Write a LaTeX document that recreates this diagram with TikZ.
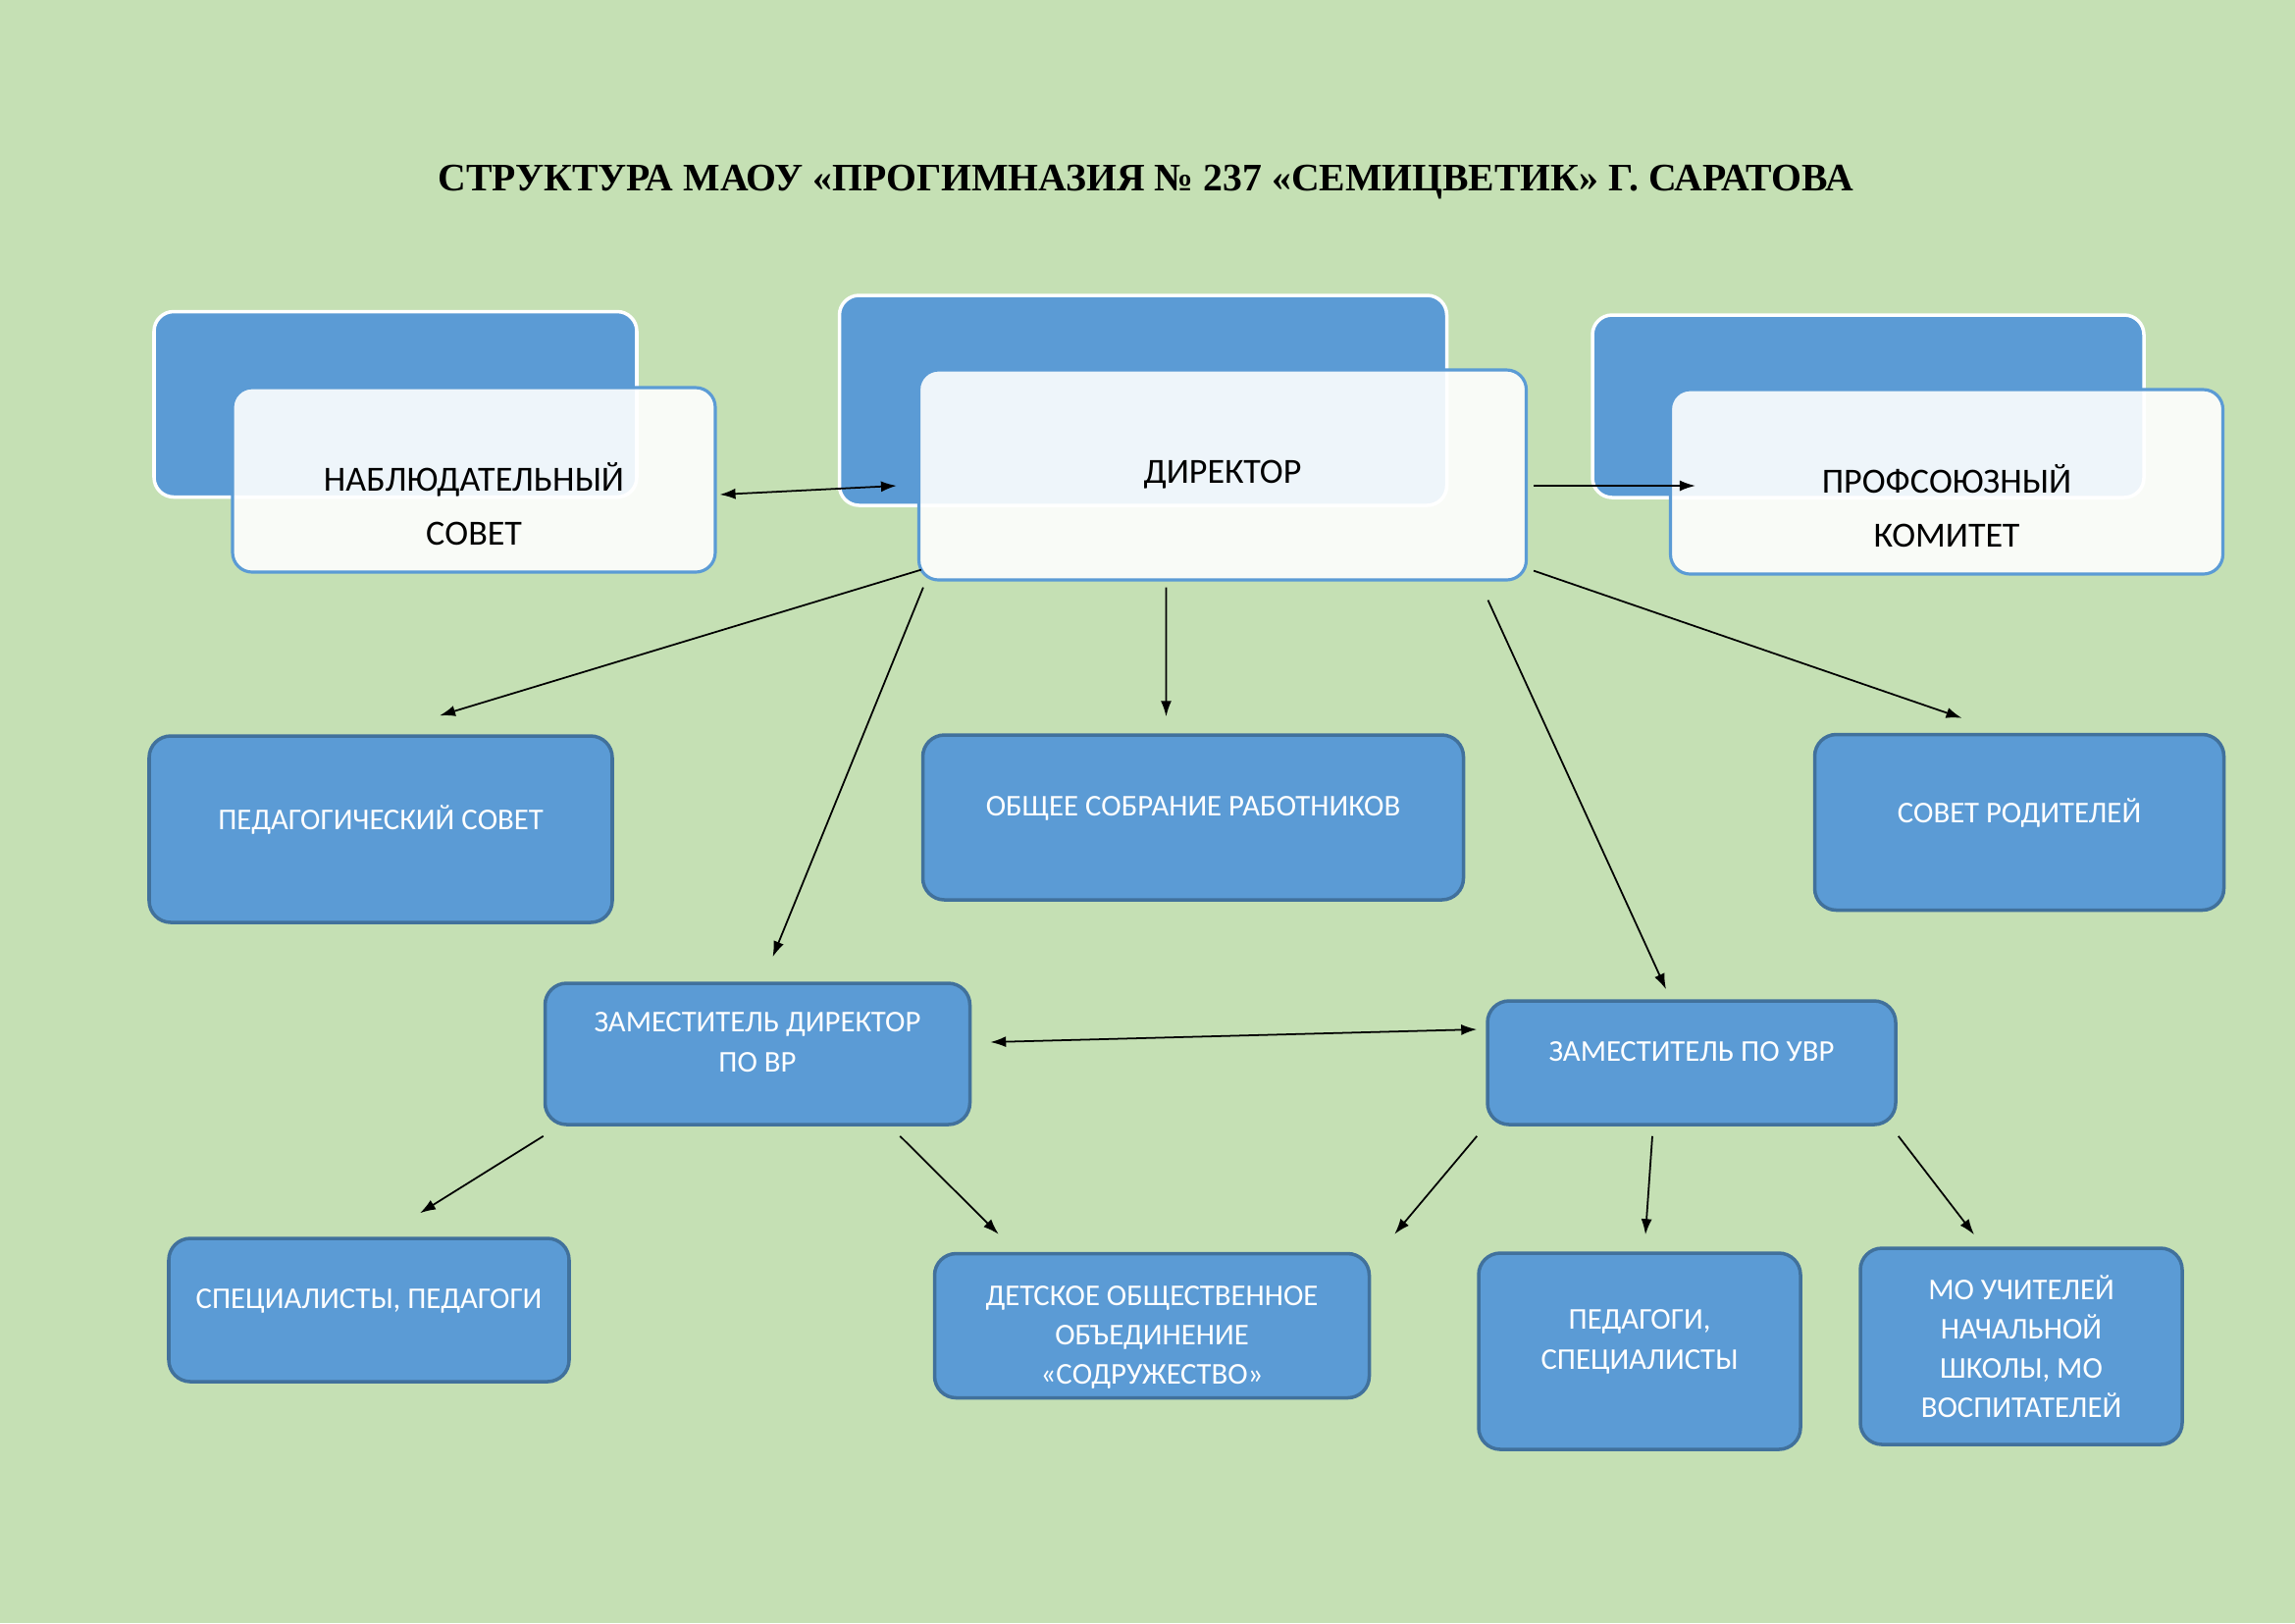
\documentclass[tikz,border=0pt]{standalone}
\usepackage{fontspec}
\setmainfont{Carlito}
\newfontfamily\titlefont{Liberation Serif}
\usetikzlibrary{arrows.meta}

\definecolor{bggreen}{HTML}{C5E0B4}
\definecolor{boxblue}{HTML}{5B9BD5}
\definecolor{boxedge}{HTML}{41719C}

\begin{document}
\begin{tikzpicture}[x=0.1mm, y=-0.1mm,
    backbox/.style={rectangle, rounded corners=2mm, draw=white, line width=1pt, fill=boxblue, inner sep=0pt},
    frontbox/.style={rectangle, rounded corners=2mm, draw=boxblue, line width=0.9pt, fill=white, fill opacity=0.9, text opacity=1, align=center, inner sep=0pt, font=\fontsize{10.25}{15.6}\selectfont},
    unitbox/.style={rectangle, rounded corners=2.2mm, draw=boxedge, line width=1pt, fill=boxblue, text=white, align=center, inner sep=0pt, font=\fontsize{8.75}{11.4}\selectfont},
    arrow/.style={-{Latex[length=1.6mm,width=1.1mm]}, line width=0.5pt},
    twoway/.style={{Latex[length=1.6mm,width=1.1mm]}-{Latex[length=1.6mm,width=1.1mm]}, line width=0.5pt}]

    % Page background
    \fill[bggreen] (0,0) rectangle (2339,1654);
    \useasboundingbox (0,0) rectangle (2339,1654);

    % Title
    \node[font=\titlefont\bfseries\fontsize{11.3}{13}\selectfont] (title) at (1168,186)
        {СТРУКТУРА МАОУ «ПРОГИМНАЗИЯ № 237 «СЕМИЦВЕТИК» Г. САРАТОВА};

    % Top row: back cards
    \node[backbox, minimum width=49.2mm, minimum height=18.9mm] (nabback) at (403,412) {};
    \node[backbox, minimum width=61.9mm, minimum height=21.4mm] (dirback) at (1165,408) {};
    \node[backbox, minimum width=56.2mm, minimum height=18.6mm] (profback) at (1904,414) {};

    % Top row: front cards
    \node[frontbox, minimum width=49.2mm, minimum height=18.8mm] (nab) at (483,489)
        {\mbox{}\\[2.4mm]НАБЛЮДАТЕЛЬНЫЙ\\СОВЕТ};
    \node[frontbox, minimum width=61.9mm, minimum height=21.4mm] (dir) at (1246,484) {ДИРЕКТОР};
    \node[frontbox, minimum width=56.3mm, minimum height=18.8mm] (prof) at (1984,491)
        {\mbox{}\\[2.4mm]ПРОФСОЮЗНЫЙ\\КОМИТЕТ};

    % Second row
    \node[unitbox, minimum width=47.2mm, minimum height=19mm, text depth=2.4mm] (ped) at (388,845) {ПЕДАГОГИЧЕСКИЙ СОВЕТ};
    \node[unitbox, minimum width=55.1mm, minimum height=16.8mm, text depth=2.4mm] (obs) at (1216,833) {ОБЩЕЕ СОБРАНИЕ РАБОТНИКОВ};
    \node[unitbox, minimum width=41.7mm, minimum height=17.9mm, text depth=2.4mm] (rod) at (2058,838) {СОВЕТ РОДИТЕЛЕЙ};

    % Deputies
    \node[unitbox, minimum width=43.3mm, minimum height=14.4mm, text depth=2.4mm] (zvr) at (772,1074) {ЗАМЕСТИТЕЛЬ ДИРЕКТОР\\ПО ВР};
    \node[unitbox, minimum width=41.6mm, minimum height=12.6mm, text depth=2.4mm] (zuvr) at (1724,1083) {ЗАМЕСТИТЕЛЬ ПО УВР};

    % Bottom row
    \node[unitbox, minimum width=40.8mm, minimum height=14.6mm, text depth=2.4mm] (spec) at (376,1335) {СПЕЦИАЛИСТЫ, ПЕДАГОГИ};
    \node[unitbox, minimum width=44.3mm, minimum height=14.7mm] (det) at (1174,1351) {\rule{0pt}{4.3mm}ДЕТСКОЕ ОБЩЕСТВЕННОЕ\\ОБЪЕДИНЕНИЕ\\«СОДРУЖЕСТВО»};
    \node[unitbox, minimum width=32.8mm, minimum height=20mm, text depth=2.4mm] (pedsp) at (1671,1377) {ПЕДАГОГИ,\\СПЕЦИАЛИСТЫ};
    \node[unitbox, minimum width=32.8mm, minimum height=20mm] (mo) at (2060,1372) {МО УЧИТЕЛЕЙ\\НАЧАЛЬНОЙ\\ШКОЛЫ, МО\\ВОСПИТАТЕЛЕЙ};

    % Arrows from the top row
    \draw[twoway] ([xshift=0.3mm,yshift=-1.5mm]nab.east) -- ([xshift=-2.1mm,yshift=-1.1mm]dir.west);
    \draw[arrow] ([xshift=0.6mm,yshift=-1.1mm]dir.east) -- ([xshift=2.7mm,yshift=-0.4mm]prof.west);
    \draw[arrow] ([xshift=0.4mm,yshift=1.2mm]dir.south west) -- ([xshift=6mm,yshift=1.9mm]ped.north);
    \draw[arrow] ([xshift=-5.75mm,yshift=-0.6mm]dir.south) -- ([xshift=-2.75mm,yshift=1.7mm]obs.north);
    \draw[arrow] ([xshift=0.6mm,yshift=1.1mm]dir.south east) -- ([xshift=-5.85mm,yshift=1.5mm]rod.north);
    \draw[arrow] ([xshift=0.6mm,yshift=-0.6mm]dir.south west) -- ([xshift=1.55mm,yshift=2.5mm]zvr.north);
    \draw[arrow] ([xshift=27.05mm,yshift=-1.9mm]dir.south) -- ([xshift=-2.6mm,yshift=1mm]zuvr.north);

    % Arrows between and below the deputies
    \draw[twoway] ([xshift=1.9mm,yshift=1.2mm]zvr.east) -- ([xshift=-0.9mm,yshift=3.4mm]zuvr.west);
    \draw[arrow] ([yshift=-1mm]zvr.south west) -- ([xshift=5.2mm,yshift=2.4mm]spec.north);
    \draw[arrow] ([xshift=-7.3mm,yshift=-1mm]zvr.south east) -- ([xshift=6.7mm,yshift=1.8mm]det.north west);
    \draw[arrow] ([xshift=-0.9mm,yshift=-1mm]zuvr.south west) -- ([xshift=2.4mm,yshift=1.8mm]det.north east);
    \draw[arrow] ([xshift=-4mm,yshift=-1mm]zuvr.south) -- ([xshift=0.6mm,yshift=1.7mm]pedsp.north);
    \draw[arrow] ([xshift=0.1mm,yshift=-1mm]zuvr.south east) -- ([xshift=-4.8mm,yshift=1.2mm]mo.north);

\end{tikzpicture}
\end{document}
